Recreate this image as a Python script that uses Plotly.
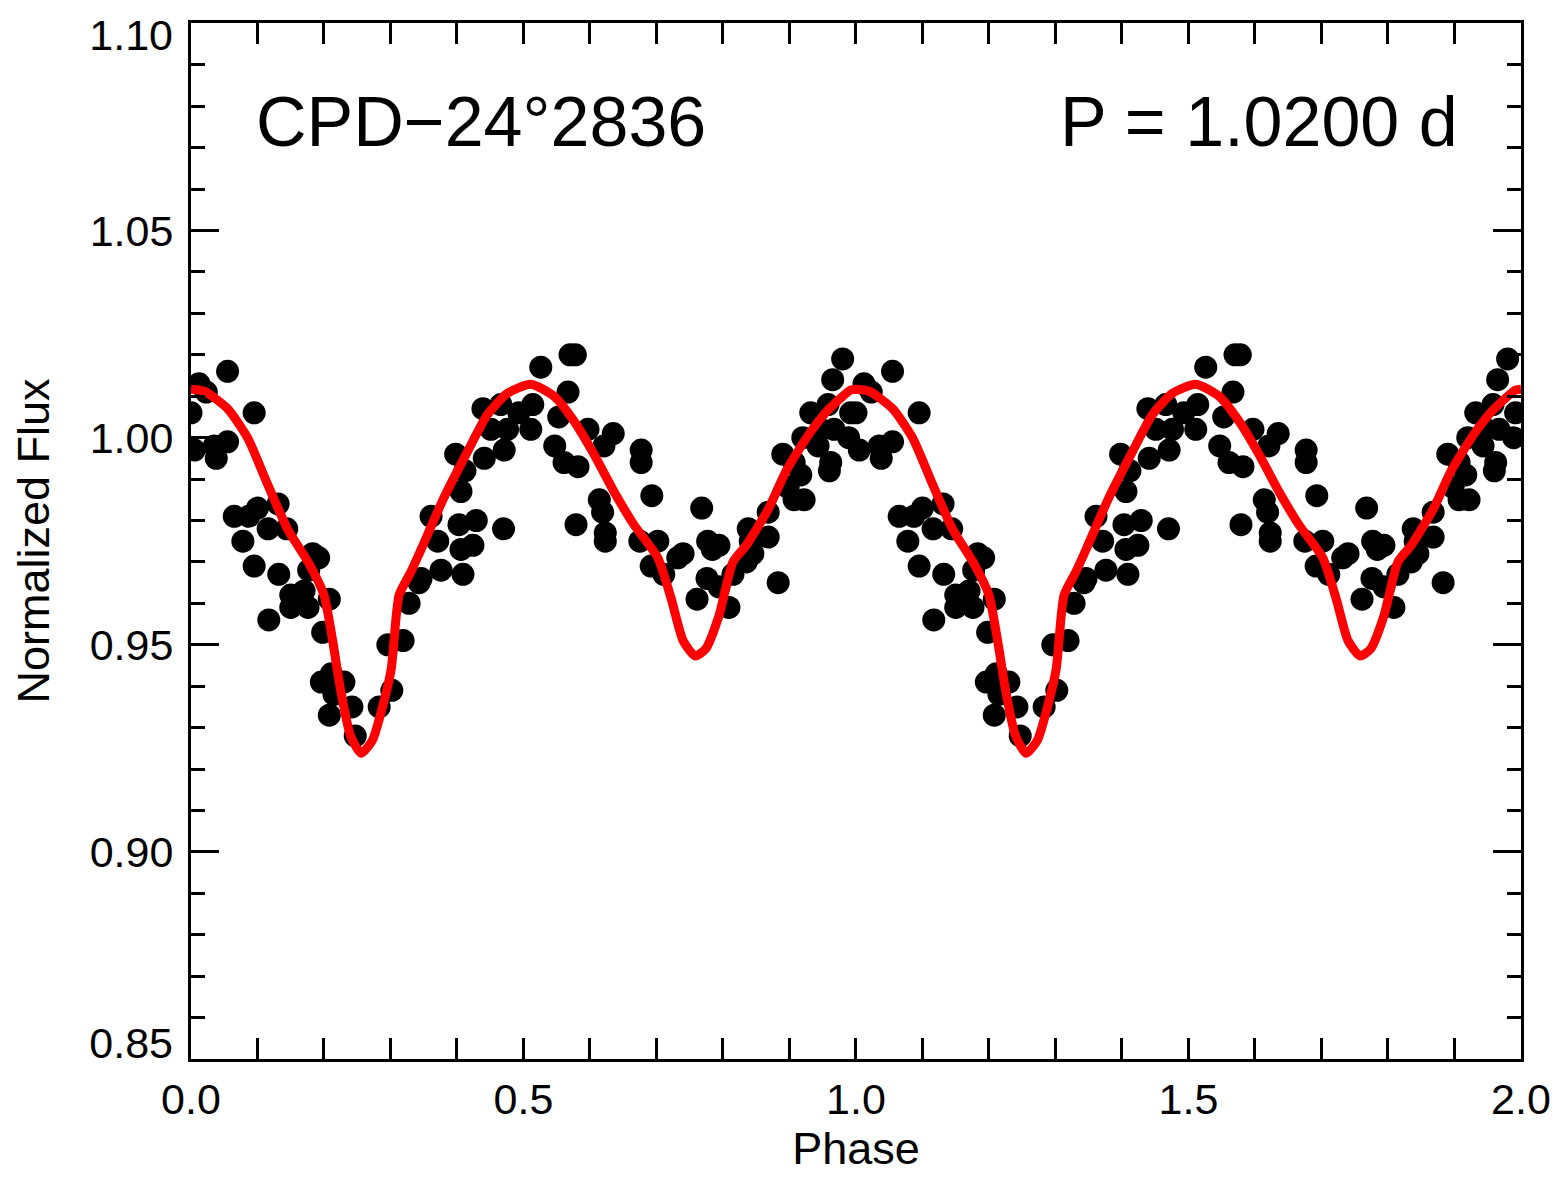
import plotly.graph_objects as go

# folded photometry, phase 0-1 (plotted twice, 0-2)
phase = [0.000, 0.012, 0.023, 0.005, 0.035, 0.038, 0.055, 0.055, 0.095, 0.065,
         0.087, 0.100, 0.078, 0.131, 0.116, 0.144, 0.095, 0.132, 0.117, 0.183,
         0.192, 0.177, 0.150, 0.150, 0.170, 0.176, 0.208, 0.198, 0.211, 0.196,
         0.230, 0.215, 0.208, 0.242, 0.247, 0.283, 0.302, 0.296, 0.319, 0.328,
         0.343, 0.346, 0.361, 0.371, 0.376, 0.398, 0.403, 0.406, 0.406, 0.409,
         0.412, 0.424, 0.429, 0.439, 0.441, 0.451, 0.466, 0.470, 0.471, 0.476,
         0.493, 0.511, 0.514, 0.526, 0.547, 0.553, 0.561, 0.567, 0.570, 0.578,
         0.579, 0.582, 0.597, 0.614, 0.619, 0.621, 0.623, 0.623, 0.635, 0.675,
         0.677, 0.677, 0.692, 0.693, 0.702, 0.711, 0.732, 0.740, 0.761, 0.768,
         0.776, 0.777, 0.784, 0.794, 0.794, 0.809, 0.815, 0.835, 0.838, 0.841,
         0.845, 0.868, 0.868, 0.883, 0.890, 0.898, 0.907, 0.907, 0.917, 0.920,
         0.922, 0.932, 0.943, 0.947, 0.958, 0.960, 0.962, 0.965, 0.967, 0.980,
         0.989, 0.992]
flux = [1.006, 1.013, 1.011, 0.997, 0.998, 0.995, 0.999, 1.016, 1.006, 0.981,
        0.981, 0.983, 0.975, 0.984, 0.978, 0.978, 0.969, 0.967, 0.956, 0.972,
        0.971, 0.968, 0.962, 0.959, 0.963, 0.959, 0.961, 0.953, 0.943, 0.941,
        0.941, 0.938, 0.933, 0.935, 0.928, 0.935, 0.939, 0.950, 0.951, 0.960,
        0.965, 0.966, 0.981, 0.975, 0.968, 0.996, 0.979, 0.987, 0.973, 0.967,
        0.992, 0.974, 0.980, 1.007, 0.995, 1.002, 1.008, 0.978, 0.997, 1.002,
        1.006, 1.002, 1.008, 1.017, 0.998, 1.005, 0.994, 1.011, 1.020, 1.020,
        0.979, 0.993, 1.002, 0.985, 0.982, 0.998, 0.977, 0.975, 1.001, 0.975,
        0.997, 0.994, 0.969, 0.986, 0.975, 0.967, 0.971, 0.972, 0.961, 0.983,
        0.966, 0.975, 0.973, 0.974, 0.964, 0.959, 0.967, 0.970, 0.978, 0.975,
        0.972, 0.976, 0.982, 0.965, 0.996, 0.988, 0.985, 0.994, 0.991, 1.000,
        0.985, 1.006, 0.998, 1.002, 1.008, 0.992, 0.994, 1.014, 1.002, 1.019,
        1.000, 1.006]

# model light curve
model_phase = [0.000, 0.020, 0.055, 0.085, 0.115, 0.145, 0.176, 0.200, 0.213, 0.225,
               0.240, 0.256, 0.273, 0.288, 0.301, 0.313, 0.331, 0.346, 0.380, 0.416,
               0.446, 0.476, 0.511, 0.546, 0.576, 0.606, 0.636, 0.666, 0.702, 0.722,
               0.740, 0.758, 0.774, 0.794, 0.815, 0.835, 0.869, 0.895, 0.930, 0.960,
               0.992, 1.000]
model_flux = [1.0117, 1.0112, 1.0070, 1.0000, 0.9888, 0.9780, 0.9700, 0.9620, 0.9510, 0.9390,
              0.9280, 0.9238, 0.9270, 0.9350, 0.9440, 0.9620, 0.9677, 0.9730, 0.9854, 0.9967,
              1.0056, 1.0107, 1.0129, 1.0100, 1.0040, 0.9960, 0.9870, 0.9790, 0.9710, 0.9612,
              0.9510, 0.9473, 0.9490, 0.9570, 0.9700, 0.9740, 0.9830, 0.9920, 1.0010, 1.0070,
              1.0115, 1.0117]

y_ticks = [0.90, 0.95, 1.00, 1.05]   # inner labels
y_top = 1.10                         # end labels sit inside the frame (IDL style)
y_bottom = 0.85
x_ticks = [0.0, 0.5, 1.0, 1.5, 2.0]

star = "CPD\u221224\u00b02836"
period_text = "P = 1.0200 d"

x_pts = phase + [p + 1 for p in phase]
y_pts = flux + flux
x_mod = model_phase + [p + 1 for p in model_phase]
y_mod = model_flux + model_flux

font = "Liberation Sans, Arial, Helvetica, sans-serif"
yrange = [0.85, 1.1001]

fig = go.Figure()
fig.add_trace(go.Scatter(x=x_pts, y=y_pts, mode="markers",
                         marker=dict(color="black", size=23, line=dict(width=0)),
                         showlegend=False))
fig.add_trace(go.Scatter(x=x_mod, y=y_mod, mode="lines",
                         line=dict(color="#ff0000", width=9, shape="spline", smoothing=0.6),
                         showlegend=False))

fig.add_annotation(x=0.0945, y=1.0761, text=star, showarrow=False,
                   xanchor="left", yanchor="middle", font=dict(size=70, color="black"))
fig.add_annotation(x=1.908, y=1.0761, text=period_text, showarrow=False,
                   xanchor="right", yanchor="middle", font=dict(size=70, color="black"))

fig.update_xaxes(range=[0, 2.0001], tickvals=x_ticks, tickformat=".1f",
                 ticks="inside", ticklen=21, tickwidth=3, tickcolor="black",
                 minor=dict(dtick=0.1, ticks="inside", ticklen=10, tickwidth=3, tickcolor="black"),
                 showline=True, linewidth=3, linecolor="black", mirror="allticks",
                 showgrid=False, zeroline=False, automargin=False,
                 tickfont=dict(size=43, color="black"), ticklabelstandoff=0,
                 ticklabeloverflow="allow",
                 title=dict(text="Phase", font=dict(size=45, color="black"), standoff=8))
fig.update_yaxes(range=yrange, tickvals=y_ticks + [y_top, y_bottom], tickformat=".2f",
                 ticktext=["0.90", "0.95", "1.00", "1.05", " ", " "],
                 ticks="inside", ticklen=28, tickwidth=3, tickcolor="black",
                 minor=dict(dtick=0.01, ticks="inside", ticklen=14, tickwidth=3, tickcolor="black"),
                 showline=True, linewidth=3, linecolor="black", mirror="allticks",
                 showgrid=False, zeroline=False, automargin=False,
                 tickfont=dict(size=43, color="black"), ticklabelstandoff=6,
                 ticklabeloverflow="allow",
                 title=dict(text="Normalized Flux", font=dict(size=45, color="black"), standoff=28))

# end labels on overlaid axes, nudged into the frame
end_axis = dict(range=yrange, overlaying="y", side="left", showline=False, ticks="",
                showgrid=False, zeroline=False, automargin=False, tickformat=".2f",
                tickfont=dict(size=43, color="black"), ticklabelstandoff=17,
                ticklabeloverflow="allow")
fig.update_layout(yaxis2=dict(end_axis, tickvals=[y_top], ticklabelshift=12),
                  yaxis3=dict(end_axis, tickvals=[y_bottom], ticklabelshift=-16))
fig.add_trace(go.Scatter(x=[None], y=[None], yaxis="y2", showlegend=False, hoverinfo="skip"))
fig.add_trace(go.Scatter(x=[None], y=[None], yaxis="y3", showlegend=False, hoverinfo="skip"))

fig.update_layout(width=1568, height=1193,
                  margin=dict(l=183, r=55, t=15, b=142),
                  plot_bgcolor="white", paper_bgcolor="white",
                  font=dict(family=font, color="black"))

fig.write_html("out.html")
